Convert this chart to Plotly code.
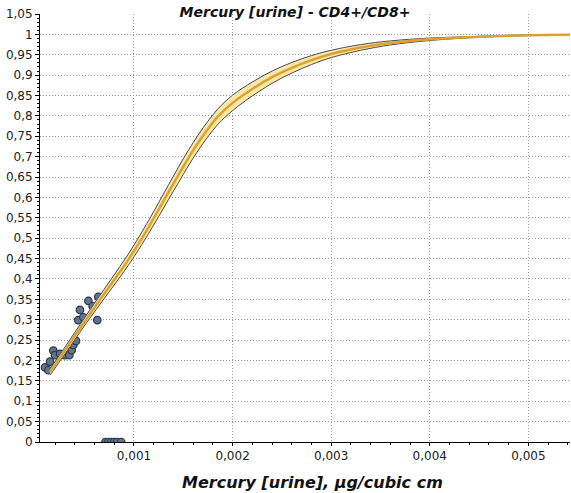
import plotly.graph_objects as go

# Observed points
obs_x = [0.000097, 0.000131, 0.000148, 0.000182, 0.000199, 0.00025, 0.0003, 0.000344,
         0.000368, 0.000385, 0.000412, 0.000435, 0.000452, 0.000486, 0.000537, 0.000581,
         0.000628, 0.000638,
         0.00071, 0.00074, 0.00077, 0.0008, 0.00083, 0.00087]
obs_y = [0.183, 0.176, 0.197, 0.224, 0.213, 0.216, 0.213, 0.213,
         0.225, 0.238, 0.248, 0.299, 0.324, 0.306, 0.346, 0.333,
         0.299, 0.356,
         0, 0, 0, 0, 0, 0]

# Fitted curve with confidence band
fit_x = [0.00015, 0.00025, 0.00035, 0.00045, 0.00055, 0.00065, 0.00075, 0.00085, 0.00095,
         0.00105, 0.00115, 0.00125, 0.00135, 0.00145, 0.00155, 0.00165, 0.00175, 0.00185,
         0.002, 0.0022, 0.0024, 0.0026, 0.0028, 0.003, 0.0033, 0.0036, 0.004, 0.0045,
         0.005, 0.00545]
fit_mid = [0.172, 0.207, 0.242, 0.278, 0.313, 0.347, 0.381, 0.415, 0.45,
           0.488, 0.528, 0.57, 0.613, 0.655, 0.696, 0.734, 0.768, 0.798,
           0.832, 0.866, 0.895, 0.918, 0.937, 0.952, 0.968, 0.979, 0.988, 0.994,
           0.998, 0.999]
fit_lo = [0.164, 0.199, 0.233, 0.269, 0.303, 0.336, 0.369, 0.402, 0.436,
          0.473, 0.512, 0.553, 0.595, 0.636, 0.677, 0.715, 0.749, 0.779,
          0.813, 0.849, 0.88, 0.905, 0.926, 0.943, 0.961, 0.974, 0.985, 0.993,
          0.997, 0.999]
fit_hi = [0.18, 0.215, 0.251, 0.287, 0.323, 0.358, 0.393, 0.428, 0.464,
          0.503, 0.544, 0.587, 0.631, 0.674, 0.715, 0.753, 0.787, 0.817,
          0.851, 0.883, 0.91, 0.931, 0.948, 0.961, 0.975, 0.984, 0.991, 0.995,
          0.999, 0.999]

x_tickvals = [0.001, 0.002, 0.003, 0.004, 0.005]
x_ticktext = ["0,001", "0,002", "0,003", "0,004", "0,005"]
y_tickvals = [0, 0.05, 0.1, 0.15, 0.2, 0.25, 0.3, 0.35, 0.4, 0.45, 0.5, 0.55, 0.6, 0.65,
              0.7, 0.75, 0.8, 0.85, 0.9, 0.95, 1, 1.05]
y_ticktext = ["0", "0,05", "0,1", "0,15", "0,2", "0,25", "0,3", "0,35", "0,4", "0,45", "0,5",
              "0,55", "0,6", "0,65", "0,7", "0,75", "0,8", "0,85", "0,9", "0,95", "1", "1,05"]

title_text = "Mercury [urine] - CD4+/CD8+"
x_title = "Mercury [urine], µg/cubic cm"

fig = go.Figure()
fig.add_trace(go.Scatter(x=obs_x, y=obs_y, mode="markers", cliponaxis=True,
                         marker=dict(size=7.5, color="#62758d",
                                     line=dict(color="#2a3645", width=1.2)),
                         showlegend=False))
fig.add_trace(go.Scatter(x=fit_x, y=fit_lo, mode="lines", line_shape="spline",
                         line=dict(color="#4a4a4a", width=1), showlegend=False))
fig.add_trace(go.Scatter(x=fit_x, y=fit_hi, mode="lines", line_shape="spline",
                         fill="tonexty", fillcolor="#fbe8a6",
                         line=dict(color="#4a4a4a", width=1), showlegend=False))
fig.add_trace(go.Scatter(x=fit_x, y=fit_mid, mode="lines", line_shape="spline",
                         line=dict(color="#dba231", width=2.5), showlegend=False))

font_family = "DejaVu Sans"
grid_style = dict(showgrid=True, gridcolor="#9c9c9c", griddash="1px,2px", gridwidth=1)
fig.update_layout(
    width=571, height=493,
    margin=dict(l=40, r=1, t=14, b=51),
    paper_bgcolor="white", plot_bgcolor="white",
    font=dict(family=font_family, size=12, color="#222222"),
    title=dict(text="<b><i>" + title_text + "</i></b>", x=295 / 571, xanchor="center",
               y=1 - 12 / 493, yanchor="middle", yref="container",
               font=dict(family=font_family, size=14, color="#111111")),
    xaxis=dict(range=[0.0000467, 0.005422], tickvals=x_tickvals, ticktext=x_ticktext,
               showline=True, linecolor="black", linewidth=1,
               ticks="outside", ticklen=3, tickcolor="black",
               minor=dict(dtick=0.0002, ticks="outside", ticklen=2, tickcolor="black", showgrid=False),
               zeroline=False, **grid_style),
    yaxis=dict(range=[0, 1.05], tickvals=y_tickvals, ticktext=y_ticktext,
               showline=True, linecolor="black", linewidth=1,
               ticks="outside", ticklen=4, tickcolor="black",
               minor=dict(dtick=0.01, ticks="outside", ticklen=2, tickcolor="black", showgrid=False),
               zeroline=False, **grid_style),
    annotations=[dict(text="<b><i>" + x_title + "</i></b>", xref="paper", yref="paper",
                      x=(312 - 40) / 530, y=-(483 - 442) / 428, xanchor="center", yanchor="middle",
                      showarrow=False, font=dict(family=font_family, size=16, color="#111111"))],
)

fig.write_html("out.html", config={"displayModeBar": False},
               post_script="document.body.style.margin='0';document.body.style.padding='0';")
